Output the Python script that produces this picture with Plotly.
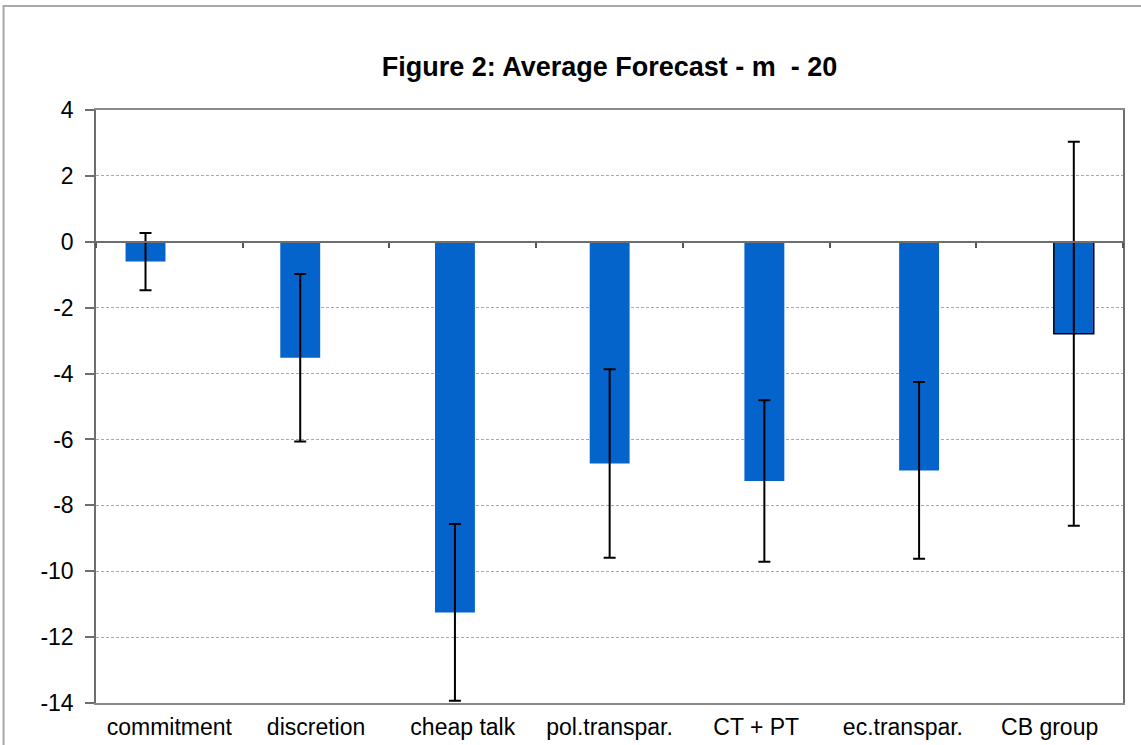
import plotly.graph_objects as go

categories = ["commitment", "discretion", "cheap talk", "pol.transpar.", "CT + PT", "ec.transpar.", "CB group"]
means = [-0.6, -3.52, -11.25, -6.73, -7.26, -6.94, -2.79]
errors = [0.87, 2.54, 2.68, 2.86, 2.45, 2.68, 5.83]
y_ticks = [4, 2, 0, -2, -4, -6, -8, -10, -12, -14]
y_tick_labels = ["4", "2", "0", "-2", "-4", "-6", "-8", "-10", "-12", "-14"]
title_text = "<b>Figure 2: Average Forecast - m  - 20</b>"

W, H = 1141, 745
L, R, T, B = 95.5, 18, 110, 42
pw, ph = W - L - R, H - T - B

FONT = "Arial, Liberation Sans, sans-serif"
BLUE = "#0563cc"

fig = go.Figure()

# bars (on overlay axis so that bar spacing matches the original)
fig.add_trace(go.Bar(
    x=categories, y=means, xaxis="x2", yaxis="y",
    width=0.258,
    marker=dict(color=BLUE,
                line=dict(color="black", width=[0, 0, 0, 0, 0, 0, 1.5])),
    error_y=dict(type="data", array=errors, visible=True,
                 color="black", thickness=2, width=6),
    showlegend=False, hoverinfo="skip",
))

# invisible trace for category tick axis at zero line
fig.add_trace(go.Scatter(
    x=categories, y=[0] * len(categories), xaxis="x3", yaxis="y",
    mode="markers", marker=dict(opacity=0), showlegend=False, hoverinfo="skip",
))
# invisible trace for labels axis
fig.add_trace(go.Scatter(
    x=categories, y=[0] * len(categories), xaxis="x", yaxis="y",
    mode="markers", marker=dict(opacity=0), showlegend=False, hoverinfo="skip",
))

fig.update_layout(
    width=W, height=H,
    margin=dict(l=L, r=R, t=T, b=B, pad=0, autoexpand=False),
    paper_bgcolor="white", plot_bgcolor="white",
    font=dict(family=FONT, color="black", size=22),
    title=dict(text=title_text, x=0.5, xref="paper", xanchor="center",
               y=(H - 67) / H, yref="container", yanchor="middle",
               font=dict(family=FONT, size=27, color="black")),
    xaxis=dict(type="category", categoryorder="array", categoryarray=categories,
               range=[-0.5, 6.5], domain=[0, 1], anchor="y", automargin=False,
               showline=True, linecolor="#8a8a8a", linewidth=1.5, mirror=True,
               ticks="outside", ticklen=3, tickcolor="rgba(0,0,0,0)",
               showgrid=False, zeroline=False,
               tickfont=dict(family=FONT, size=23, color="black")),
    xaxis2=dict(type="category", categoryorder="array", categoryarray=categories,
                range=[-0.32, 6.318], overlaying="x", anchor="y",
                visible=False, showgrid=False),
    xaxis3=dict(type="category", categoryorder="array", categoryarray=categories,
                range=[-0.5, 6.5], overlaying="x", anchor="free",
                position=14 / 18, showline=True, linecolor="#6e6e6e", linewidth=1.5,
                ticks="outside", tickson="boundaries", ticklen=5, tickwidth=1.5,
                tickcolor="#555555", showticklabels=False, showgrid=False),
    yaxis=dict(range=[-14, 4], domain=[0, 1], tickvals=y_ticks, ticktext=y_tick_labels,
               automargin=False,
               showline=True, linecolor="#6e6e6e", linewidth=1.5, mirror=True,
               ticks="outside", ticklen=9, tickwidth=1.5, tickcolor="#6e6e6e",
               ticklabelstandoff=7,
               showgrid=True, gridcolor="#a8a8a8", gridwidth=1, griddash="3px,2px",
               zeroline=False,
               tickfont=dict(family=FONT, size=23, color="black")),
    shapes=[dict(type="rect", xref="paper", yref="paper",
                 x0=(3 - L) / pw, x1=(W + 20 - L) / pw,
                 y0=-(B + 20) / ph, y1=(H - B - 6) / ph,
                 line=dict(color="#a8a8a8", width=2), fillcolor="rgba(0,0,0,0)",
                 layer="below")],
)

fig.write_html("out.html", config={"displayModeBar": False},
               post_script="document.body.style.margin='0';document.body.style.overflow='hidden';")
